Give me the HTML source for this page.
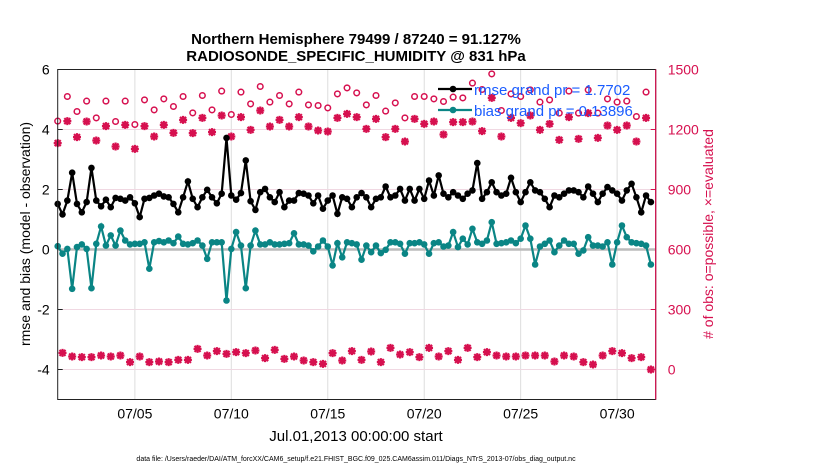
<!DOCTYPE html>
<html><head><meta charset="utf-8"><style>
body{margin:0;background:#fff;}
svg{display:block;font-family:"Liberation Sans",sans-serif;}
</style></head><body>
<svg id="c" width="830" height="470" viewBox="0 0 830 470">
<rect x="0" y="0" width="830" height="470" fill="#fff"/>
<text x="356" y="44" text-anchor="middle" font-size="15" font-weight="bold">Northern Hemisphere 79499 / 87240 = 91.127%</text>
<text x="356" y="61" text-anchor="middle" font-size="15" font-weight="bold">RADIOSONDE_SPECIFIC_HUMIDITY @ 831 hPa</text>
<text transform="translate(30,234) rotate(-90)" text-anchor="middle" font-size="14">rmse and bias (model - observation)</text>
<text transform="translate(713,234) rotate(-90)" text-anchor="middle" font-size="14" fill="#d6104f"># of obs: o=possible, ×=evaluated</text>
<text x="356" y="441" text-anchor="middle" font-size="15">Jul.01,2013 00:00:00 start</text>
<text x="356" y="461" text-anchor="middle" font-size="7">data file: /Users/raeder/DAI/ATM_forcXX/CAM6_setup/f.e21.FHIST_BGC.f09_025.CAM6assim.011/Diags_NTrS_2013-07/obs_diag_output.nc</text>
<g id="plot"></g>
</svg>
<script>
const rmse=[1.52,1.17,1.63,2.56,1.52,1.24,1.58,2.72,1.63,1.44,1.66,1.41,1.72,1.69,1.63,1.74,1.54,1.08,1.69,1.72,1.8,1.86,1.77,1.74,1.52,1.24,1.74,2.27,1.69,1.41,1.74,
1.99,1.74,1.54,1.86,3.72,1.8,1.66,1.88,2.97,1.61,1.32,1.91,2.02,1.74,1.58,1.91,1.41,1.63,1.63,1.88,1.86,1.8,1.54,1.8,1.36,1.63,1.8,1.19,1.74,1.69,
1.41,1.74,1.88,1.74,1.41,1.69,1.74,2.1,1.74,1.8,2.02,1.63,2.02,1.63,2.02,1.69,2.3,1.8,2.47,1.86,1.74,1.91,1.8,1.69,1.86,1.97,2.88,1.69,1.91,2.24,
1.91,1.8,1.86,2.39,1.91,1.58,1.91,2.24,1.97,1.91,1.69,1.41,1.8,1.74,1.86,1.97,1.97,1.91,1.74,2.1,1.86,1.58,1.86,2.08,1.97,1.86,1.63,1.97,2.19,1.74,1.24,1.8,1.58];
const bias=[0.11,-0.14,0.02,-1.31,0.08,0.17,0.02,-1.29,0.19,0.77,0.13,0.47,0.13,0.63,0.3,0.17,0.19,0.19,0.24,-0.64,0.24,0.28,0.24,0.3,0.21,0.43,0.19,0.17,0.21,0.3,0.13,
-0.31,0.24,0.24,0.24,-1.7,0.02,0.58,0.13,-1.29,0.13,0.63,0.17,0.17,0.24,0.17,0.17,0.19,0.21,0.54,0.17,0.17,0.13,-0.06,0.1,0.3,0.1,-0.53,0.21,-0.26,0.24,
0.21,0.17,-0.34,0.13,-0.09,0.13,-0.12,-0.01,0.24,0.24,0.19,-0.14,0.21,0.21,0.24,0.17,-0.14,0.21,0.24,0.1,0.13,0.58,0.08,0.36,0.17,0.69,0.24,0.19,0.3,0.91,
0.19,0.21,0.24,0.3,0.21,0.36,0.8,0.36,-0.5,0.1,0.19,0.3,-0.09,0.13,0.3,0.19,0.19,-0.14,-0.03,0.41,0.13,0.13,0.1,0.24,-0.5,0.24,0.8,0.41,0.24,0.21,0.19,0.13,-0.5];
const possible=[1242,1365,1290,1342,1258,1342,1240,1342,1225,1348,1298,1353,1315,1365,1283,1370,
1298,1392,1275,1387,1328,1415,1337,1370,1328,1387,1323,1320,1308,1378,1408,
1383,1323,1370,1292,1333,1258,1365,1365,1353,1340,1362,1358,1432,1400,1478,
1295,1378,1365,1398,1337,1348,1282,1392,1282,1398,1282,1353,1337,1342,1265,1387];
const evaluated=[1132,1242,1162,1240,1145,1217,1115,1223,1103,1217,1165,1223,1183,1248,1182,1258,
1187,1270,1165,1262,1198,1295,1215,1248,1215,1262,1215,1195,1190,1258,1278,
1262,1203,1253,1162,1203,1140,1253,1228,1240,1175,1237,1237,1240,1192,1358,
1165,1258,1232,1270,1198,1228,1148,1262,1153,1282,1158,1220,1198,1220,1140,1258];
const lowCount=[83,65,62,62,70,65,70,37,65,37,40,37,48,48,103,
70,92,78,87,82,95,57,98,53,65,45,37,28,82,45,
92,48,90,37,108,75,87,62,108,65,92,48,108,62,87,
70,65,65,70,70,70,40,70,65,37,25,70,92,82,57,62,0];
const leftTicks=[6,4,2,0,-2,-4];
const rightTicks=[1500,1200,900,600,300,0];
const xTickDays=[4,9,14,19,24,29];
const xTickLabels=["07/05","07/10","07/15","07/20","07/25","07/30"];

const X0=57.7,X1=655.7,Y0=69.5,Y1=399.5;
const xs=d=>X0+(d/31)*(X1-X0);
const yl=v=>Y0+(6-v)/11*(Y1-Y0);
const yr=v=>Y0+(1500-v)/1650*(Y1-Y0);
const NS="http://www.w3.org/2000/svg";
const g=document.getElementById('plot');
function mk(t,a,p){const e=document.createElementNS(NS,t);for(const k in a)e.setAttribute(k,a[k]);(p||g).appendChild(e);return e;}

mk('rect',{x:X0,y:Y0,width:X1-X0,height:Y1-Y0,fill:'#fff'});
xTickDays.forEach((d,i)=>{
  const gl=mk('line',{x1:xs(d),x2:xs(d),y1:Y0,y2:Y1,stroke:'#ddd','stroke-width':1});
  
  
  const t=mk('text',{x:xs(d),y:Y1+19,'text-anchor':'middle','font-size':14});
  t.textContent=xTickLabels[i];
  
  
});
rightTicks.forEach(v=>{
  const gl=mk('line',{x1:X0,x2:X1,y1:yr(v),y2:yr(v),stroke:'#f0d8e2','stroke-width':1});
  
  
  mk('line',{x1:X1-5,x2:X1,y1:yr(v),y2:yr(v),stroke:'#d6104f'});
  const t=mk('text',{x:X1+12,y:yr(v)+5,'font-size':14,fill:'#d6104f'});
  t.textContent=v;
  
  
});
leftTicks.forEach(v=>{
  mk('line',{x1:X0,x2:X0+5,y1:yl(v),y2:yl(v),stroke:'#222'});
  const t=mk('text',{x:X0-8,y:yl(v)+5,'text-anchor':'end','font-size':14});
  t.textContent=v;
  
  
});
const zl=mk('line',{x1:X0,x2:X1,y1:yl(0),y2:yl(0),stroke:'#bbb','stroke-width':2.5});



const MAG='#d6104f';
function star(x,y,p,name){
  const s=mk('path',{d:`M${x-4} ${y}H${x+4}M${x} ${y-4}V${y+4}M${x-3} ${y-3}L${x+3} ${y+3}M${x-3} ${y+3}L${x+3} ${y-3}`,stroke:MAG,'stroke-width':2.2,fill:'none'},p);
  
  
}
possible.forEach((v,i)=>{
  const c=mk('circle',{cx:xs(i*0.5),cy:yr(v),r:2.8,fill:'#fff',stroke:MAG,'stroke-width':1.5});
  
  
});
evaluated.forEach((v,i)=>star(xs(i*0.5),yr(v),g,'evaluated-obs-marker'));
lowCount.forEach((v,i)=>star(xs(i*0.5+0.25),yr(v),g,'low-count-marker'));

function series(arr,color,name){
  const pts=arr.map((v,i)=>xs(i*0.25)+','+yl(v)).join(' ');
  const pl=mk('polyline',{points:pts,fill:'none',stroke:color,'stroke-width':2.2});
  
  
  arr.forEach((v,i)=>{
    const c=mk('circle',{cx:xs(i*0.25),cy:yl(v),r:3.3,fill:color});
    
    
  });
}
series(bias,'#0a8585','bias');
series(rmse,'#000','rmse');

mk('rect',{x:X0,y:Y0,width:X1-X0,height:Y1-Y0,fill:'none',stroke:'#222','stroke-width':1});
mk('line',{x1:X1,x2:X1,y1:Y0,y2:Y1,stroke:MAG,'stroke-width':1.2});

// legend
const lg=mk('g',{});


mk('line',{x1:438,x2:472,y1:89,y2:89,stroke:'#000','stroke-width':2.2},lg);
mk('circle',{cx:453,cy:89,r:3.3,fill:'#000'},lg);
const t1=mk('text',{x:474,y:95,'font-size':15,fill:'#1a5cff'},lg);
t1.textContent='rmse grand pr =  1.7702';


mk('line',{x1:438,x2:472,y1:110,y2:110,stroke:'#0a8585','stroke-width':2.2},lg);
mk('circle',{cx:453,cy:110,r:3.3,fill:'#0a8585'},lg);
const t2=mk('text',{x:474,y:116,'font-size':15,fill:'#1a5cff'},lg);
t2.textContent='bias grand pr = 0.13896';


</script>
</body></html>
